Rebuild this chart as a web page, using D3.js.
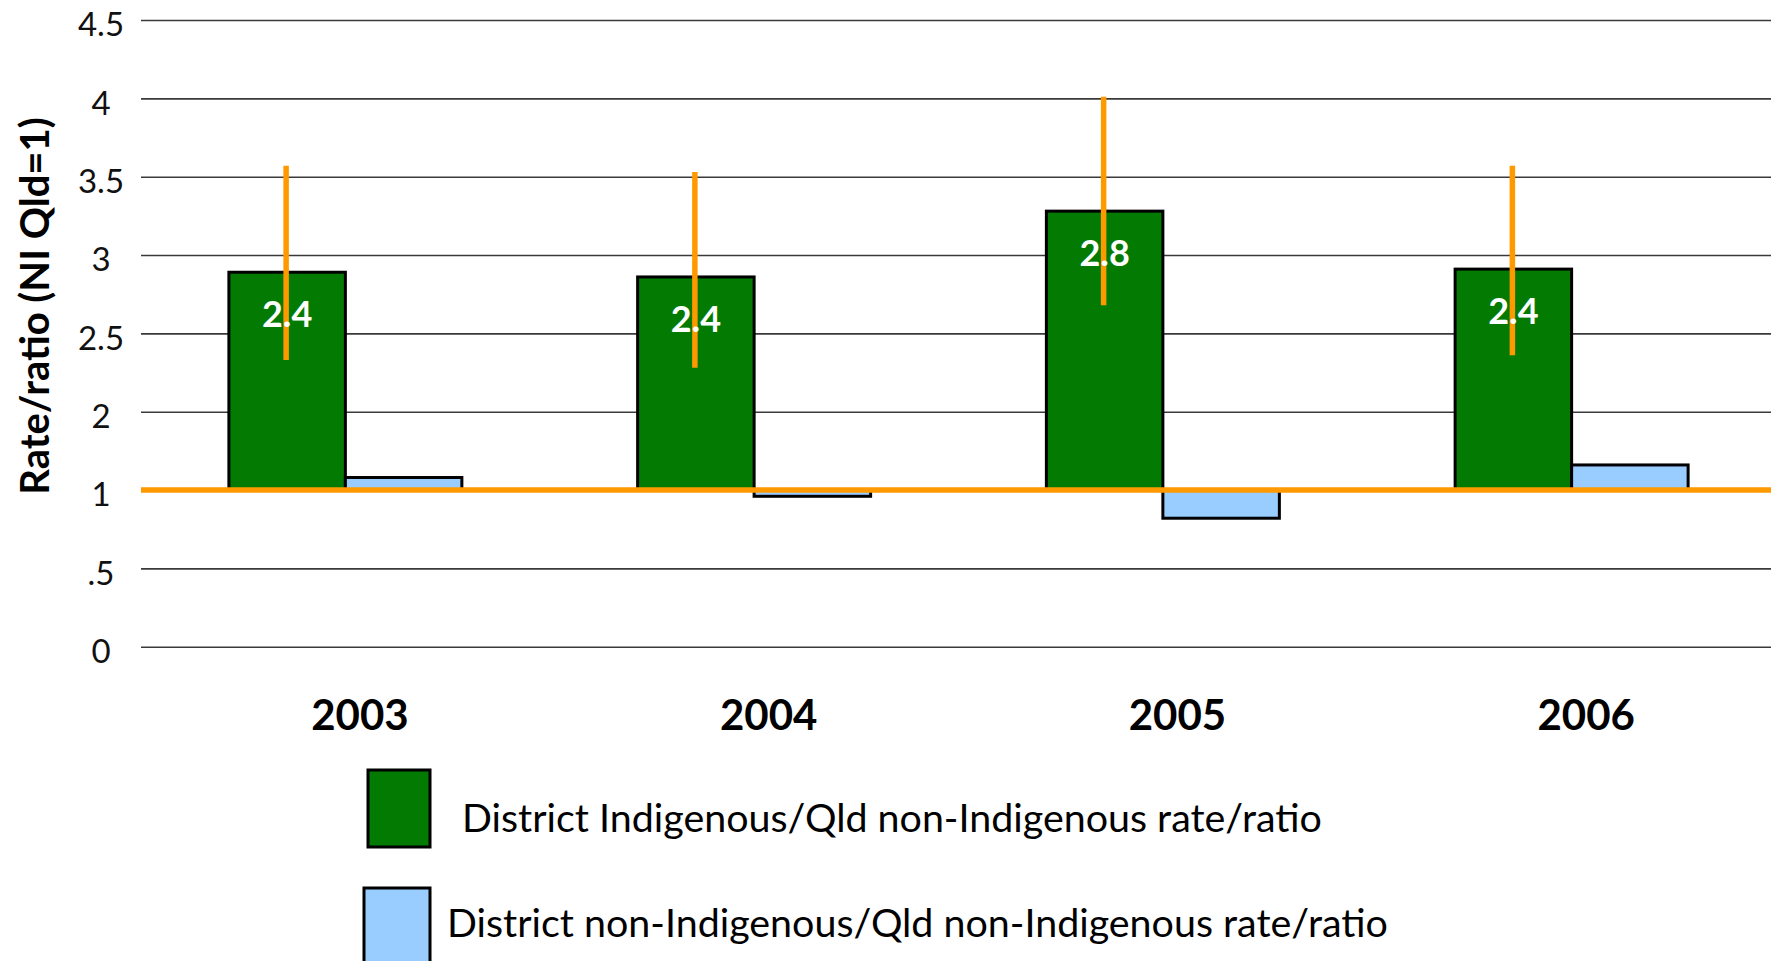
<!DOCTYPE html>
<html>
<head>
<meta charset="utf-8">
<script src="https://cdn.jsdelivr.net/npm/d3@7"></script>
<style>
  html, body { margin: 0; padding: 0; background: #ffffff; }
  svg { display: block; }
</style>
</head>
<body>
<svg id="chart" width="1771" height="961"></svg>
<script>
// ---- data ----
const years = ["2003", "2004", "2005", "2006"];
const indigenousRatio = [2.39, 2.36, 2.78, 2.41];
const nonIndigenousRatio = [1.08, 0.96, 0.82, 1.16];
const ciLower = [1.83, 1.78, 2.18, 1.86];
const ciUpper = [3.07, 3.03, 3.51, 3.07];
const referenceValue = 1;
const tickValues = [0, 0.5, 1, 1.5, 2, 2.5, 3, 3.5, 4];
const tickLabels = ["0", ".5", "1", "2", "2.5", "3", "3.5", "4", "4.5"];
const seriesNames = [
  "District Indigenous/Qld non-Indigenous rate/ratio",
  "District non-Indigenous/Qld non-Indigenous rate/ratio"
];
const seriesKeys = ["ind", "nonind"];
const yAxisTitle = "Rate/ratio (NI Qld=1)";

// ---- styles ----
const GREEN = "#037B03", BLUE = "#99CCFF", ORANGE = "#FF9900";
const FONT = "Lato, 'Open Sans', sans-serif";

const svg = d3.select("#chart");
const W = 1771, H = 961;
const plotLeft = 141, plotRight = 1776;

svg.append("rect").attr("width", W).attr("height", H).attr("fill", "#fff");

const y = d3.scaleLinear().domain([0, 4]).range([646.7, 20]);
const x0 = d3.scaleBand().domain(years).range([plotLeft, plotRight])
  .paddingInner(0.43).paddingOuter(0.215);
const x1 = d3.scaleBand().domain(seriesKeys).range([0, x0.bandwidth()]);

// gridlines + y labels
const yAxis = d3.axisLeft(y)
  .tickValues(tickValues)
  .tickFormat((d, i) => tickLabels[i])
  .tickSizeInner(-(W - plotLeft))
  .tickSizeOuter(0);
const gy = svg.append("g").attr("transform", `translate(${plotLeft},0)`).call(yAxis);
gy.select(".domain").remove();
gy.selectAll(".tick line").attr("stroke", "#3a3a3a").attr("stroke-width", 1.6);
gy.selectAll(".tick text")
  .attr("x", 101 - plotLeft)
  .attr("dy", "0.36em")
  .attr("y", 4)
  .attr("text-anchor", "middle")
  .attr("font-family", FONT)
  .attr("font-size", 33)
  .attr("fill", "#111");

// y axis title
svg.append("text")
  .attr("transform", `translate(49,306) rotate(-90)`)
  .attr("text-anchor", "middle")
  .attr("font-family", FONT)
  .attr("font-weight", "bold")
  .attr("font-size", 40)
  .attr("fill", "#000")
  .text(yAxisTitle);

// bars
const rows = years.map((yr, i) => ({
  year: yr, ind: indigenousRatio[i], nonind: nonIndigenousRatio[i],
  lo: ciLower[i], hi: ciUpper[i]
}));
const colors = { ind: GREEN, nonind: BLUE };

const groups = svg.append("g").selectAll("g").data(rows).join("g")
  .attr("transform", d => `translate(${x0(d.year)},0)`);

groups.selectAll("rect")
  .data(d => seriesKeys.map(k => ({ key: k, value: d[k] })))
  .join("rect")
  .attr("x", d => x1(d.key))
  .attr("width", x1.bandwidth())
  .attr("y", d => y(Math.max(d.value, referenceValue)))
  .attr("height", d => Math.abs(y(d.value) - y(referenceValue)))
  .attr("fill", d => colors[d.key])
  .attr("stroke", "#000")
  .attr("stroke-width", 3);

// reference line at 1
svg.append("line")
  .attr("x1", plotLeft).attr("x2", W)
  .attr("y1", y(referenceValue)).attr("y2", y(referenceValue))
  .attr("stroke", ORANGE).attr("stroke-width", 5.5);

// error bars
groups.append("line")
  .attr("x1", x1("ind") + x1.bandwidth() / 2 - 1)
  .attr("x2", x1("ind") + x1.bandwidth() / 2 - 1)
  .attr("y1", d => y(d.hi))
  .attr("y2", d => y(d.lo))
  .attr("stroke", ORANGE)
  .attr("stroke-width", 5.5);

// data labels
groups.append("text")
  .attr("x", x1("ind") + x1.bandwidth() / 2)
  .attr("y", d => y(d.ind) + 55)
  .attr("text-anchor", "middle")
  .attr("font-family", FONT)
  .attr("font-weight", "bold")
  .attr("font-size", 36)
  .attr("fill", "#fff")
  .text(d => d3.format(".1f")(d.ind));

// x axis labels
const xAxis = d3.axisBottom(x0).tickSize(0);
const gx = svg.append("g").attr("transform", "translate(0,730)").call(xAxis);
gx.select(".domain").remove();
gx.selectAll(".tick text")
  .attr("y", 0).attr("dy", 0).attr("x", 14.5)
  .attr("font-family", FONT)
  .attr("font-weight", "bold")
  .attr("font-size", 42)
  .attr("fill", "#000");

// legend
const legendItems = [
  { name: seriesNames[0], color: GREEN, bx: 368, by: 770, bw: 62, bh: 77, tx: 462, ty: 832 },
  { name: seriesNames[1], color: BLUE, bx: 364, by: 888, bw: 66, bh: 90, tx: 447, ty: 937 }
];
const lg = svg.append("g").selectAll("g").data(legendItems).join("g");
lg.append("rect")
  .attr("x", d => d.bx).attr("y", d => d.by)
  .attr("width", d => d.bw).attr("height", d => d.bh)
  .attr("fill", d => d.color).attr("stroke", "#000").attr("stroke-width", 3);
lg.append("text")
  .attr("x", d => d.tx).attr("y", d => d.ty)
  .attr("font-family", FONT)
  .attr("font-size", 39.4)
  .attr("fill", "#000")
  .text(d => d.name);
</script>
</body>
</html>
